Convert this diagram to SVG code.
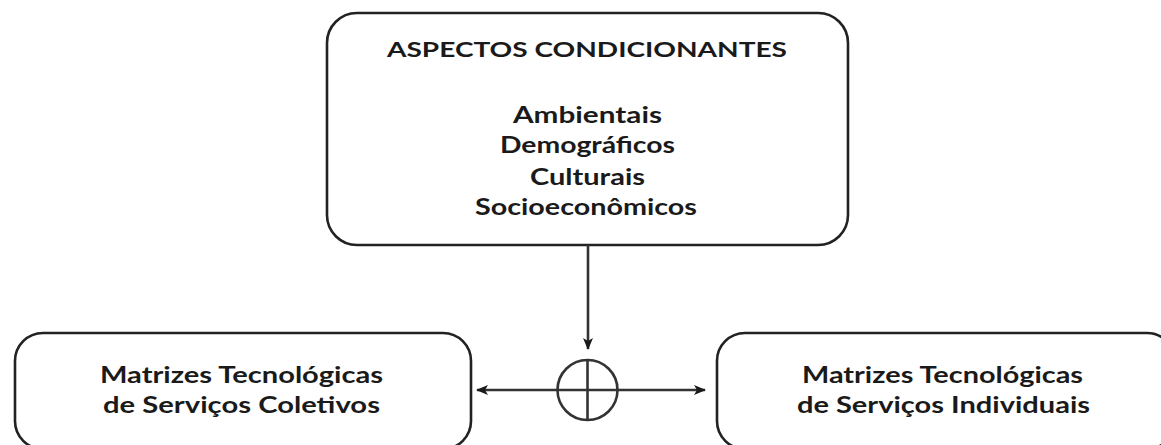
<svg xmlns="http://www.w3.org/2000/svg" width="1161" height="445" viewBox="0 0 1161 445">
<style>
.box{fill:#ffffff;stroke:#222222;stroke-width:2.6}
.t{font-family:Lato,"Open Sans","Liberation Sans",sans-serif;font-weight:bold;fill:#1a1a1a;text-anchor:middle}
.title{font-size:20px}
.body{font-size:22px}
.lbl{font-size:23px}
.conn{stroke:#333333;stroke-width:2.6;fill:none}
</style>
<defs>
<marker id="ah" viewBox="0 0 12 10" refX="11" refY="5" markerWidth="12" markerHeight="10" markerUnits="userSpaceOnUse" orient="auto">
<path d="M0,0 L12,5 L0,10 L3,5 Z" fill="#1a1a1a"/>
</marker>
</defs>
<rect width="1161" height="445" fill="#ffffff"/>
<g id="aspectos">
<rect class="box" x="327" y="13" width="521" height="232" rx="30" ry="30"/>
<text class="t title" x="587" y="57" textLength="400" lengthAdjust="spacingAndGlyphs">ASPECTOS CONDICIONANTES</text>
<text class="t body" x="587.5" y="123" textLength="149" lengthAdjust="spacingAndGlyphs">Ambientais</text>
<text class="t body" x="587.5" y="153" textLength="175" lengthAdjust="spacingAndGlyphs">Demográficos</text>
<text class="t body" x="587.5" y="185" textLength="115" lengthAdjust="spacingAndGlyphs">Culturais</text>
<text class="t body" x="586" y="215" textLength="222" lengthAdjust="spacingAndGlyphs">Socioeconômicos</text>
</g>
<g id="coletivos">
<rect class="box" x="15" y="333" width="456" height="116" rx="28" ry="28"/>
<text class="t lbl" x="241.5" y="383" textLength="283" lengthAdjust="spacingAndGlyphs">Matrizes Tecnológicas</text>
<text class="t lbl" x="241.5" y="413" textLength="277" lengthAdjust="spacingAndGlyphs">de Serviços Coletivos</text>
</g>
<g id="individuais">
<rect class="box" x="717" y="333" width="458" height="116" rx="28" ry="28"/>
<text class="t lbl" x="942.5" y="383" textLength="281" lengthAdjust="spacingAndGlyphs">Matrizes Tecnológicas</text>
<text class="t lbl" x="943.5" y="413" textLength="293" lengthAdjust="spacingAndGlyphs">de Serviços Individuais</text>
</g>
<g id="juncao">
<circle class="conn" cx="587.5" cy="390" r="30"/>
<line class="conn" x1="587.5" y1="360" x2="587.5" y2="420"/>
</g>
<g id="connectors">
<line class="conn" x1="588" y1="245" x2="588" y2="349" marker-end="url(#ah)"/>
<line class="conn" x1="587.5" y1="390" x2="477" y2="390" marker-end="url(#ah)"/>
<line class="conn" x1="587.5" y1="390" x2="705" y2="390" marker-end="url(#ah)"/>
</g>
</svg>
